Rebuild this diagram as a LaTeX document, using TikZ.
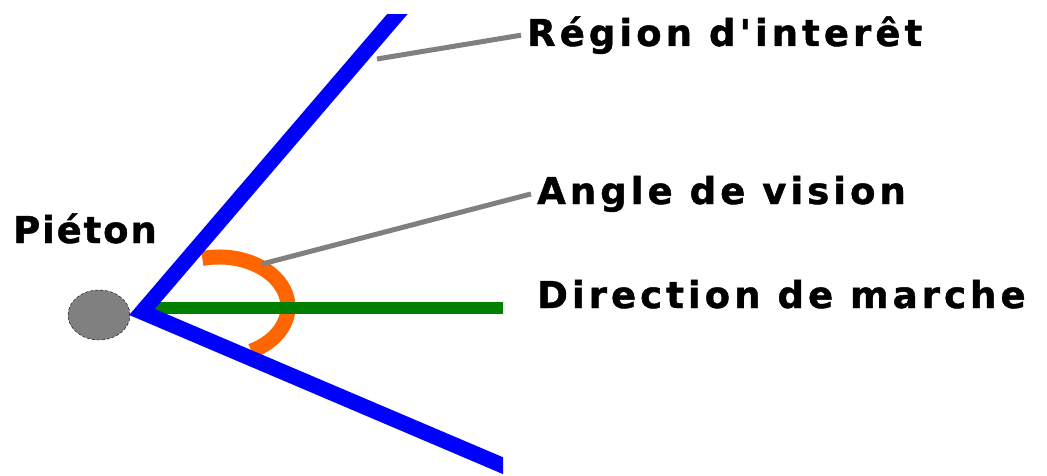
\documentclass[tikz,border=0pt]{standalone}
\usepackage{fontspec}
\setmainfont{DejaVu Sans}
\newfontfamily\labelfont[LetterSpace=11, BoldFeatures={FakeBold=1.2}]{DejaVu Sans}
\usepackage{tikz}
\usetikzlibrary{shapes.geometric,positioning}

\definecolor{roiblue}{RGB}{0,0,255}
\definecolor{walkgreen}{RGB}{0,128,0}
\definecolor{viewonge}{RGB}{255,102,0}
\definecolor{leadergray}{RGB}{128,128,128}

\begin{document}
\begin{tikzpicture}[
    x=1pt, y=1pt,
    lbl/.style={anchor=base west, inner xsep=6pt, inner ysep=0pt, font=\labelfont\bfseries\fontsize{37}{40}\selectfont},
    ray/.style={draw=roiblue, line width=15.5pt},
    heading/.style={draw=walkgreen, line width=12pt},
    arcline/.style={draw=viewonge, line width=15pt},
    leader/.style={draw=leadergray, line width=5pt},
    head/.style={ellipse, draw, densely dashed, fill=leadergray, minimum width=62pt, minimum height=50pt}
]
    \useasboundingbox (0,0) rectangle (1047,475);

    % Key points
    \coordinate (apex) at (142,163);
    \coordinate (top) at (412,478);
    \coordinate (bottom) at (539,-6);
    \coordinate (arcc) at (219,168);
    \coordinate (roipt) at (377,416);
    \coordinate (anglept) at (262,211);

    % Pedestrian
    \node[head] (walker) at (99,160) {};
    \node[lbl] (pieton) at (7,232) {\addfontfeatures{LetterSpace=5}Piéton};

    % Viewing angle and walking direction
    \draw[arcline] (arcc) ++(104:69 and 50) arc[start angle=104, end angle=-62, x radius=69, y radius=50];
    \draw[heading] (150,167) -- (503,167);

    % Region of interest
    \begin{scope}
        \clip (0,0) rectangle (503,460);
        \draw[ray] (top) -- (apex) -- (bottom);
    \end{scope}

    % Labels
    \node[lbl] (region) at (521,429) {Région d'interêt};
    \node[lbl] (angle) at (531,271) {Angle de vision};
    \node[lbl] (direction) at (531,167) {Direction de marche};

    % Leaders
    \draw[leader] (roipt) -- (region.west);
    \draw[leader] (anglept) -- (angle.west);

\end{tikzpicture}
\end{document}
